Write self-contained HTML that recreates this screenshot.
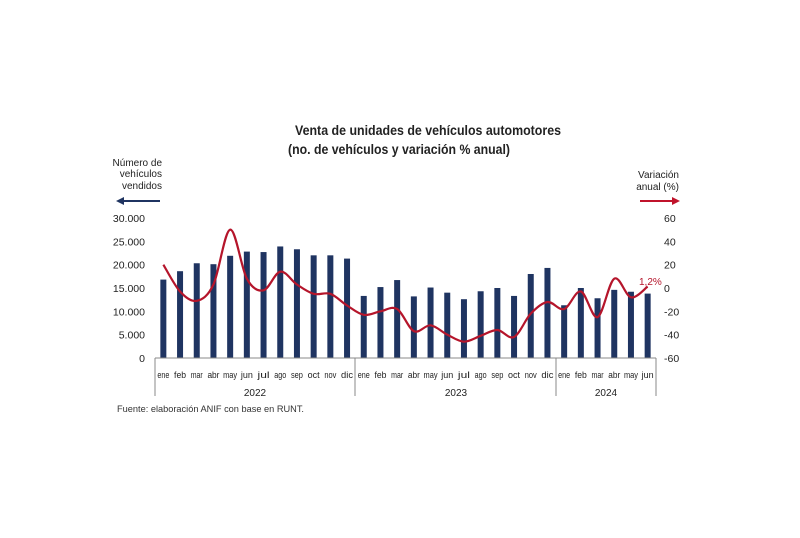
<!DOCTYPE html>
<html><head><meta charset="utf-8"><style>
body{margin:0;background:#fff;width:800px;height:533px;overflow:hidden;font-family:"Liberation Sans",sans-serif}
</style></head><body>
<svg id="s" width="800" height="533" xmlns="http://www.w3.org/2000/svg" font-family="Liberation Sans, sans-serif">
<text x="295" y="135" font-size="14" font-weight="bold" fill="#222" textLength="266" lengthAdjust="spacingAndGlyphs">Venta de unidades de vehículos automotores</text>
<text x="288" y="154" font-size="14" font-weight="bold" fill="#222" textLength="222" lengthAdjust="spacingAndGlyphs">(no. de vehículos y variación % anual)</text>
<g font-size="10" fill="#222" text-anchor="end">
<text x="162" y="166">Número de</text><text x="162" y="177">vehículos</text><text x="162" y="189">vendidos</text>
<text x="679" y="178">Variación</text><text x="679" y="190">anual (%)</text>
</g>
<line x1="120" y1="201" x2="160" y2="201" stroke="#1f3461" stroke-width="2"/>
<polygon points="116,201 124,197 124,205" fill="#1f3461"/>
<line x1="640" y1="201" x2="675" y2="201" stroke="#c0132b" stroke-width="2"/>
<polygon points="680,201 672,197 672,205" fill="#c0132b"/>
<g id="g"></g>
<text x="117" y="412" font-size="9.5" fill="#333" textLength="187" lengthAdjust="spacingAndGlyphs">Fuente: elaboración ANIF con base en RUNT.</text>
</svg>
<script>
const g=document.getElementById('g');let h='';
const bars=[16.8,18.6,20.3,20.1,21.9,22.8,22.7,23.9,23.3,22,22,21.3,13.3,15.2,16.7,13.2,15.1,14,12.6,14.3,15,13.3,18,19.3,11.3,15,12.8,14.6,14.2,13.8];
const line=[20,-3,-11,3,50,8,-2,14,3,-5,-5,-15,-23,-20,-18,-37,-32,-40,-46,-41,-36,-42,-22,-12,-18,-3,-25,8,-8,1.2];
const m=['ene','feb','mar','abr','may','jun','jul','ago','sep','oct','nov','dic'];
const x0=155,w=16.7,base=358;
const cx=i=>x0+w*(i+0.5);
[30000,25000,20000,15000,10000,5000,0].forEach(v=>{h+=`<text x="145" y="${base-v/1000*4.667+4}" font-size="10.5" text-anchor="end" fill="#222">${v?v.toLocaleString('de-DE'):0}</text>`});
[60,40,20,0,-20,-40,-60].forEach(v=>{h+=`<text x="664" y="${288-v*140/120+4}" font-size="10.5" fill="#222">${v}</text>`});
bars.forEach((b,i)=>{const y=base-b*4.667;h+=`<rect x="${cx(i)-3}" y="${y}" width="6" height="${base-y}" fill="#1f3461"/>`;
const t=m[i%12];const L=t==='may'?14:12;
h+=`<text x="${cx(i)-L/2}" y="378" font-size="9" fill="#222" textLength="${L}" lengthAdjust="spacingAndGlyphs">${t}</text>`});
h+=`<line x1="${x0}" y1="${base}" x2="656" y2="${base}" stroke="#888"/>`;
[x0,355,556,656].forEach(x=>h+=`<line x1="${x}" y1="${base}" x2="${x}" y2="396" stroke="#888"/>`);
h+=`<text x="255" y="396" font-size="10" text-anchor="middle" fill="#222">2022</text><text x="456" y="396" font-size="10" text-anchor="middle" fill="#222">2023</text><text x="606" y="396" font-size="10" text-anchor="middle" fill="#222">2024</text>`;
const P=line.map((v,i)=>[cx(i),288-v*140/120]);
let d=`M${P[0][0]},${P[0][1]}`;
for(let i=0;i<P.length-1;i++){const p0=P[Math.max(0,i-1)],p1=P[i],p2=P[i+1],p3=P[Math.min(P.length-1,i+2)];
d+=` C${p1[0]+(p2[0]-p0[0])/6},${p1[1]+(p2[1]-p0[1])/6} ${p2[0]-(p3[0]-p1[0])/6},${p2[1]-(p3[1]-p1[1])/6} ${p2[0]},${p2[1]}`}
h+=`<path d="${d}" fill="none" stroke="#b5152b" stroke-width="2.2"/>`;
h+=`<text x="639" y="285" font-size="10" fill="#b5152b">1,2%</text>`;
g.innerHTML=h;
</script>
</body></html>
